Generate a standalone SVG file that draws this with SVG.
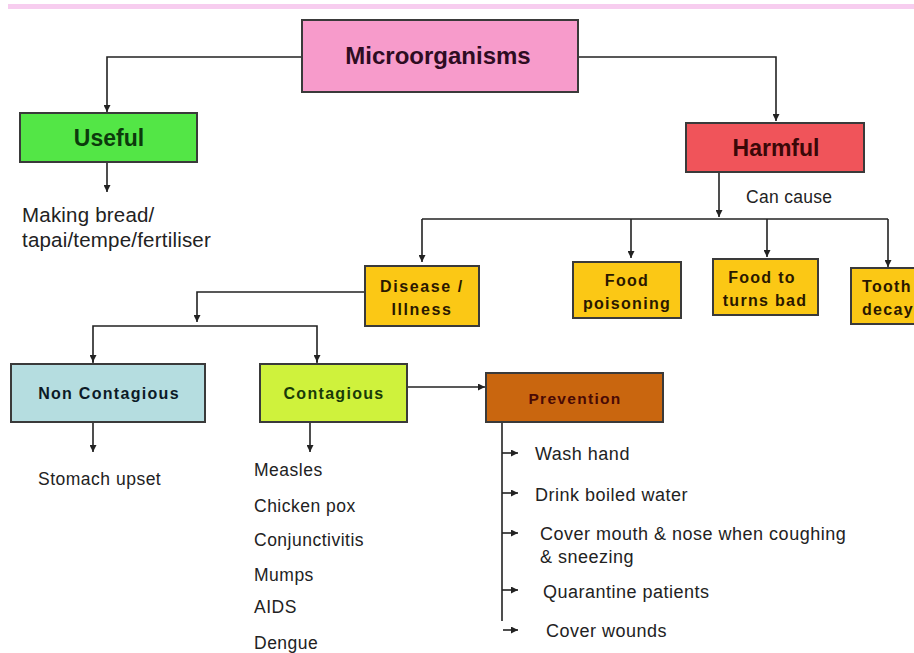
<svg xmlns="http://www.w3.org/2000/svg" width="914" height="653" viewBox="0 0 914 653">
<style>
.box{stroke:#3a3a3a;stroke-width:2}
.lbl{font-family:"Liberation Sans",Arial,sans-serif;font-weight:bold;text-anchor:middle}
.big{font-size:23px}
.mid{font-size:16px;letter-spacing:1.3px}
.txt{font-family:"Liberation Sans",Arial,sans-serif;font-size:17.5px;fill:#222;letter-spacing:0.5px}
.ln{fill:none;stroke:#222;stroke-width:1.6}
</style>
<defs>
<marker id="ah" viewBox="0 0 10 10" refX="10" refY="5" markerWidth="7" markerHeight="7" markerUnits="userSpaceOnUse" orient="auto">
<path d="M0,0 L10,5 L0,10 z" fill="#222"/>
</marker>
</defs>
<rect width="914" height="653" fill="#ffffff"/>
<rect x="8" y="4" width="906" height="5" fill="#f7cdef"/>

<g id="connectors">
<path class="ln" d="M302,57 H107 V112" marker-end="url(#ah)"/>
<path class="ln" d="M578,57 H776 V121" marker-end="url(#ah)"/>
<path class="ln" d="M107,162 V192" marker-end="url(#ah)"/>
<path class="ln" d="M719,172 V217" marker-end="url(#ah)"/>
<path class="ln" d="M422,219 H888"/>
<path class="ln" d="M422,219 V262" marker-end="url(#ah)"/>
<path class="ln" d="M631,219 V258" marker-end="url(#ah)"/>
<path class="ln" d="M767,219 V257" marker-end="url(#ah)"/>
<path class="ln" d="M888,219 V267" marker-end="url(#ah)"/>
<path class="ln" d="M365,292 H197 V322" marker-end="url(#ah)"/>
<path class="ln" d="M93,363 V326 H317 V363"/>
<path class="ln" d="M93,355 V362" marker-end="url(#ah)"/>
<path class="ln" d="M317,355 V362" marker-end="url(#ah)"/>
<path class="ln" d="M93,422 V452" marker-end="url(#ah)"/>
<path class="ln" d="M310,422 V452" marker-end="url(#ah)"/>
<path class="ln" d="M407,387 H485" marker-end="url(#ah)"/>
<path class="ln" d="M502,422 V621"/>
<path class="ln" d="M502,453 H518" marker-end="url(#ah)"/>
<path class="ln" d="M502,493 H518" marker-end="url(#ah)"/>
<path class="ln" d="M502,533 H518" marker-end="url(#ah)"/>
<path class="ln" d="M502,590 H518" marker-end="url(#ah)"/>
<path class="ln" d="M503,630 H518" marker-end="url(#ah)"/>
</g>

<g id="microorganisms">
<rect class="box" x="302" y="20" width="276" height="72" fill="#f79bcb"/>
<text class="lbl big" x="438" y="64" fill="#2e0c22" style="font-size:24px">Microorganisms</text>
</g>
<g id="useful">
<rect class="box" x="20" y="113" width="177" height="49" fill="#53e646"/>
<text class="lbl big" x="109" y="146" fill="#0c3a0c">Useful</text>
</g>
<g id="useful-text">
<text class="txt" x="22" y="222" style="font-size:20.5px;letter-spacing:0.2px">Making bread/</text>
<text class="txt" x="22" y="247" style="font-size:20.5px;letter-spacing:0.2px">tapai/tempe/fertiliser</text>
</g>
<g id="harmful">
<rect class="box" x="686" y="123" width="178" height="49" fill="#f0545a"/>
<text class="lbl big" x="776" y="156" fill="#3a0808">Harmful</text>
</g>
<text class="txt" x="746" y="203" style="font-size:17.5px;letter-spacing:0.3px">Can cause</text>

<g id="disease">
<rect class="box" x="365" y="266" width="114" height="60" fill="#fbc815"/>
<text class="lbl mid" x="422" y="292" fill="#2a1800" style="letter-spacing:1.6px">Disease /</text>
<text class="lbl mid" x="422" y="315" fill="#2a1800" style="letter-spacing:1.6px">Illness</text>
</g>
<g id="food-poisoning">
<rect class="box" x="573" y="262" width="108" height="56" fill="#fbc815"/>
<text class="lbl mid" x="627" y="286" fill="#2a1800">Food</text>
<text class="lbl mid" x="627" y="309" fill="#2a1800">poisoning</text>
</g>
<g id="food-bad">
<rect class="box" x="713" y="259" width="105" height="56" fill="#fbc815"/>
<text class="lbl mid" x="762" y="283" fill="#2a1800">Food to</text>
<text class="lbl mid" x="765" y="306" fill="#2a1800">turns bad</text>
</g>
<g id="tooth-decay">
<rect class="box" x="851" y="268" width="70" height="56" fill="#fbc815"/>
<text class="lbl mid" x="862" y="292" fill="#2a1800" style="text-anchor:start">Tooth</text>
<text class="lbl mid" x="862" y="315" fill="#2a1800" style="text-anchor:start">decay</text>
</g>

<g id="non-contagious">
<rect class="box" x="11" y="364" width="194" height="58" fill="#b5dde0"/>
<text class="lbl mid" x="109" y="399" fill="#0c1a26">Non Contagious</text>
</g>
<g id="contagious">
<rect class="box" x="260" y="364" width="147" height="58" fill="#cff23c"/>
<text class="lbl mid" x="334" y="399" fill="#183a08">Contagious</text>
</g>
<g id="prevention">
<rect class="box" x="486" y="373" width="177" height="49" fill="#c9660f"/>
<text class="lbl mid" x="575" y="404" fill="#4a0a05" style="font-size:15.5px">Prevention</text>
</g>

<g id="non-contagious-list">
<text class="txt" x="38" y="485">Stomach upset</text>
</g>
<g id="contagious-list">
<text class="txt" x="254" y="476">Measles</text>
<text class="txt" x="254" y="512">Chicken pox</text>
<text class="txt" x="254" y="546">Conjunctivitis</text>
<text class="txt" x="254" y="581">Mumps</text>
<text class="txt" x="254" y="613">AIDS</text>
<text class="txt" x="254" y="649">Dengue</text>
</g>
<g id="prevention-list">
<text class="txt" x="535" y="460" style="font-size:18px">Wash hand</text>
<text class="txt" x="535" y="501" style="font-size:18px">Drink boiled water</text>
<text class="txt" x="540" y="540" style="font-size:18px">Cover mouth &amp; nose when coughing</text>
<text class="txt" x="540" y="563" style="font-size:18px">&amp; sneezing</text>
<text class="txt" x="543" y="598" style="font-size:18px">Quarantine patients</text>
<text class="txt" x="546" y="637" style="font-size:18px">Cover wounds</text>
</g>
</svg>
